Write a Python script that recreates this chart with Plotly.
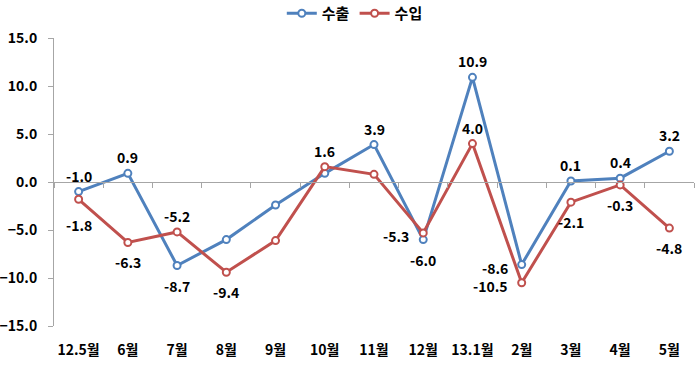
import plotly.graph_objects as go

categories = ["12.5월", "6월", "7월", "8월", "9월", "10월", "11월", "12월", "13.1월", "2월", "3월", "4월", "5월"]
export_vals = [-1.0, 0.9, -8.7, -6.0, -2.4, 0.9, 3.9, -6.0, 10.9, -8.6, 0.1, 0.4, 3.2]
import_vals = [-1.8, -6.3, -5.2, -9.4, -6.1, 1.6, 0.8, -5.3, 4.0, -10.5, -2.1, -0.3, -4.8]
export_labels = ["-1.0", "0.9", "-8.7", "", "", "", "3.9", "-6.0", "10.9", "-8.6", "0.1", "0.4", "3.2"]
import_labels = ["-1.8", "-6.3", "-5.2", "-9.4", "", "1.6", "", "-5.3", "4.0", "-10.5", "-2.1", "-0.3", "-4.8"]
# label placement: t = above, b = below, l = left
export_pos = ["t", "t", "b", "t", "t", "t", "t", "b", "t", "l", "t", "t", "t"]
import_pos = ["bb", "b", "t", "b", "t", "t", "t", "l", "t", "l", "b", "b", "b"]

BLUE = "#4F81BD"
RED = "#C0504D"
FONT = "Noto Sans CJK KR"
LBL_FONT = dict(family=FONT, size=14, color="black", weight="bold")

fig = go.Figure()
fig.add_trace(go.Scatter(
    x=categories, y=export_vals, name="수출", mode="lines+markers",
    line=dict(color=BLUE, width=3),
    marker=dict(symbol="circle", size=7, color="white", line=dict(color=BLUE, width=2)),
))
fig.add_trace(go.Scatter(
    x=categories, y=import_vals, name="수입", mode="lines+markers",
    line=dict(color=RED, width=3),
    marker=dict(symbol="circle", size=7, color="white", line=dict(color=RED, width=2)),
))
# invisible helper so the zero-crossing axis is drawn
fig.add_trace(go.Scatter(x=[0], y=[0], xaxis="x2", mode="markers", marker=dict(opacity=0),
                         showlegend=False, hoverinfo="skip"))

def add_labels(labels, vals, poss):
    for cat, v, t, p in zip(categories, vals, labels, poss):
        if not t:
            continue
        if p == "t":
            kw = dict(xanchor="center", yanchor="middle", xshift=0, yshift=16)
        elif p == "b":
            kw = dict(xanchor="center", yanchor="middle", xshift=0, yshift=-20)
        elif p == "bb":
            kw = dict(xanchor="center", yanchor="middle", xshift=0, yshift=-26)
        else:
            kw = dict(xanchor="right", yanchor="middle", xshift=-12, yshift=-3)
        fig.add_annotation(x=cat, y=v, text=t, showarrow=False, font=LBL_FONT, **kw)

add_labels(export_labels, export_vals, export_pos)
add_labels(import_labels, import_vals, import_pos)

fig.update_layout(
    width=700, height=367,
    margin=dict(l=54, r=6, t=38, b=41, autoexpand=False),
    paper_bgcolor="white", plot_bgcolor="white",
    font=dict(family=FONT, size=14, color="black"),
    showlegend=True,
    legend=dict(orientation="h", x=0.47, xanchor="center", y=1.085, yref="paper", yanchor="middle",
                font=dict(family=FONT, size=15, color="black", weight="bold"),
                itemwidth=30, tracegroupgap=0),
    xaxis=dict(
        type="category", range=[-0.5, 12.5], showline=False, ticks="", showgrid=False, zeroline=False,
        tickfont=dict(family=FONT, size=14, color="black", weight="bold"), ticklabelstandoff=14,
    ),
    xaxis2=dict(
        overlaying="x", anchor="free", position=0.5, range=[-0.5, 12.5],
        tickvals=[i - 0.5 for i in range(len(categories) + 1)],
        showticklabels=False, showline=True, linecolor="#A6A6A6", linewidth=1,
        ticks="outside", ticklen=5, tickcolor="#A6A6A6", showgrid=False, zeroline=False,
    ),
    yaxis=dict(
        range=[-15, 15], dtick=5, tickformat=".1f", showgrid=False, zeroline=False,
        showline=True, linecolor="#A6A6A6", linewidth=1, ticks="outside", ticklen=5, tickcolor="#A6A6A6",
        tickfont=dict(family=FONT, size=14, color="black", weight="bold"), ticklabelstandoff=8,
    ),
)

fig.write_html("out.html", config={"displayModeBar": False},
               post_script="document.body.style.margin='0';")
